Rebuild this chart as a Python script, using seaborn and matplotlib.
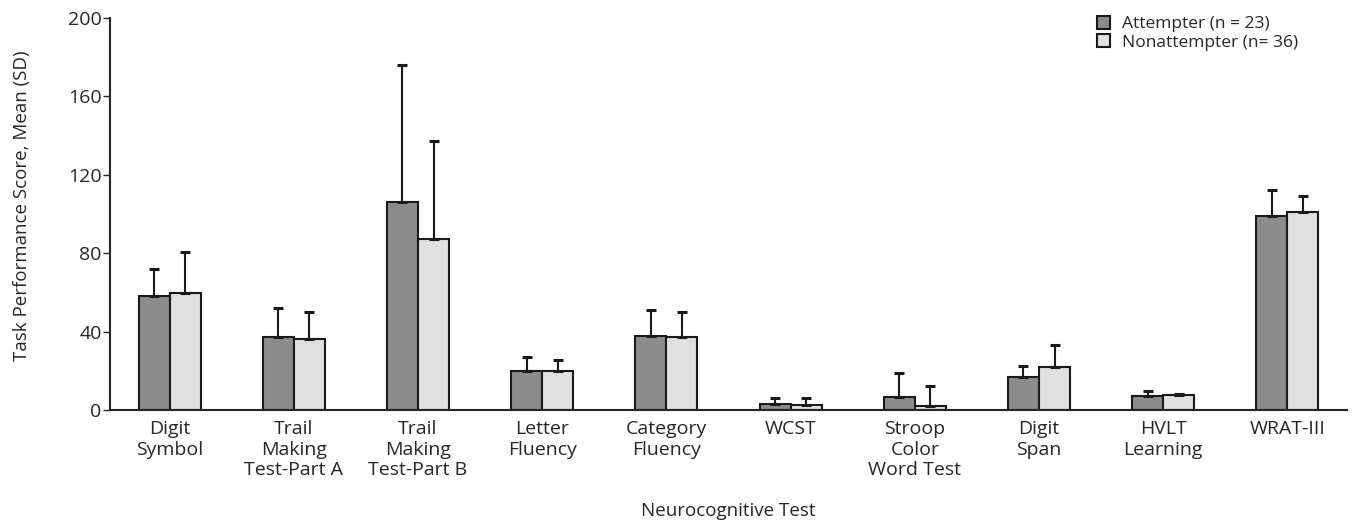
import numpy as np
import pandas as pd
import seaborn as sns
from matplotlib import pyplot as plt

tests = ["Digit\nSymbol", "Trail\nMaking\nTest-Part A", "Trail\nMaking\nTest-Part B",
         "Letter\nFluency", "Category\nFluency", "WCST", "Stroop\nColor\nWord Test",
         "Digit\nSpan", "HVLT\nLearning", "WRAT-III"]
attempter_mean = [58, 37, 106, 20, 38, 3, 6.5, 17, 7, 99]
attempter_sd = [14, 15, 70, 7, 13, 3, 12.5, 5.5, 2.7, 13]
nonattempter_mean = [59.5, 36, 87, 20, 37, 2.5, 2, 22, 7.5, 101]
nonattempter_sd = [21, 14, 50, 5.5, 13, 3.5, 10, 11, 0.5, 8]
groups = ["Attempter (n = 23)", "Nonattempter (n= 36)"]

df = pd.DataFrame({
    "test": tests * 2,
    "group": [groups[0]] * len(tests) + [groups[1]] * len(tests),
    "mean": attempter_mean + nonattempter_mean,
    "sd": attempter_sd + nonattempter_sd,
})

sns.set_style("white")
plt.rcParams['font.family'] = ['Open Sans', 'DejaVu Sans']

fig, ax = plt.subplots(figsize=(13.54, 5.25), dpi=100)
sns.barplot(data=df, x="test", y="mean", hue="group", ax=ax, width=0.5,
            palette=["#8c8c8c", "#e0e0e0"], edgecolor="#1a1a1a", linewidth=1.5,
            errorbar=None, saturation=1)

# upward-only SD whiskers, placed on the bars seaborn drew
for container, sds in zip(ax.containers, [attempter_sd, nonattempter_sd]):
    xs = [p.get_x() + p.get_width() / 2 for p in container.patches]
    ys = [p.get_height() for p in container.patches]
    ax.errorbar(xs, ys, yerr=[np.zeros(len(sds)), sds], fmt="none",
                ecolor="#1a1a1a", elinewidth=1.5, capsize=3.5, capthick=2.2)

ax.set_ylim(0, 200)
ax.set_xlim(-0.48, 9.48)
ax.set_yticks([0, 40, 80, 120, 160, 200])
ax.tick_params(axis="y", direction="out", length=5, width=1, labelsize=14, pad=1, left=True)
ax.tick_params(axis="x", length=0, labelsize=14, pad=7)
for side in ["top", "right"]:
    ax.spines[side].set_visible(False)
ax.spines["left"].set_linewidth(1.5)
ax.spines["bottom"].set_linewidth(1.5)
ax.set_xlabel("Neurocognitive Test", fontsize=13.5)
ax.set_ylabel("Task Performance Score, Mean (SD)", fontsize=13.5)
ax.xaxis.set_label_coords(0.5, -0.235)
ax.yaxis.set_label_coords(-0.064, 0.52)

ax.legend(loc="upper left", bbox_to_anchor=(1097 / 1354, 1 - 16 / 525),
          bbox_transform=fig.transFigure, frameon=False, borderaxespad=0, borderpad=0,
          fontsize=12.5, handlelength=0.75, handleheight=0.75, handletextpad=0.7,
          labelspacing=0.12)

plt.subplots_adjust(left=110 / 1354, right=1347 / 1354, top=1 - 18 / 525, bottom=1 - 410 / 525)
plt.savefig("out.png")
